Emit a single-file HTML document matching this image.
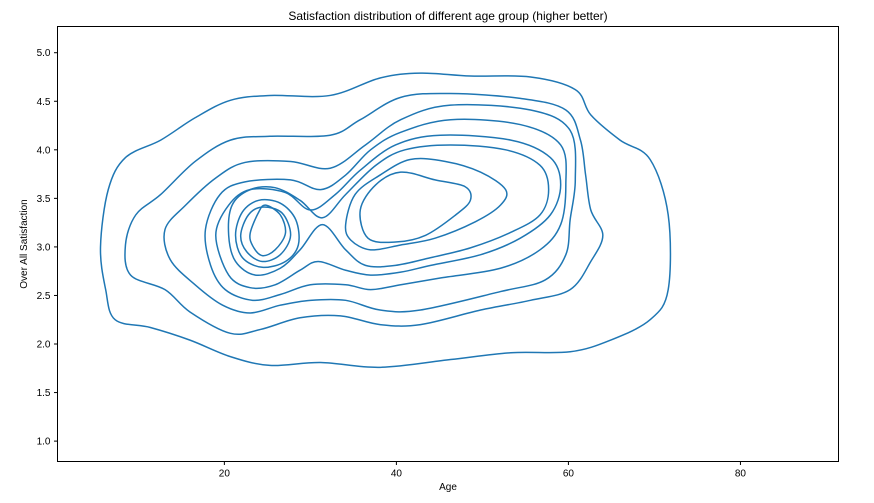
<!DOCTYPE html>
<html><head><meta charset="utf-8"><style>
body{margin:0;background:#fff;}
svg text{font-family:"Liberation Sans","DejaVu Sans",sans-serif;fill:#000;}
</style></head><body>
<svg id="chart" width="874" height="498" viewBox="0 0 874 498" xmlns="http://www.w3.org/2000/svg">
<rect width="874" height="498" fill="#fff"/>
<text x="448" y="20" font-size="12" text-anchor="middle">Satisfaction distribution of different age group (higher better)</text>
<g id="contours"></g>
<g id="axes"></g>
<text x="448" y="490" font-size="10" text-anchor="middle">Age</text>
<text transform="translate(27,244) rotate(-90)" font-size="10" text-anchor="middle">Over All Satisfaction</text>
</svg>
<script>
const xTicks=[20,40,60,80];
const yTicks=[1.0,1.5,2.0,2.5,3.0,3.5,4.0,4.5,5.0];
const L1=[[5.6,3.00],[6.5,3.59],[8.5,3.92],[12.6,4.10],[16.6,4.33],[20.7,4.51],[25.3,4.56],[32.3,4.56],[38.1,4.74],[42.8,4.79],[48.6,4.76],[55.6,4.75],[60.8,4.62],[62.6,4.36],[66.0,4.10],[69.5,3.90],[71.6,3.33],[71.6,2.56],[69.5,2.25],[64.9,2.04],[60.2,1.92],[53.3,1.91],[46.3,1.84],[38.1,1.76],[31.2,1.81],[25.3,1.78],[20.7,1.87],[16.0,2.04],[11.4,2.17],[7.3,2.25],[6.2,2.56]];
const L2=[[8.5,3.02],[9.7,3.33],[12.6,3.54],[16.6,3.88],[20.7,4.10],[25.3,4.14],[32.3,4.15],[35.8,4.31],[40.5,4.54],[46.3,4.58],[54.4,4.53],[59.7,4.41],[61.4,4.10],[62.0,3.74],[62.6,3.38],[64.0,3.12],[62.6,2.85],[60.2,2.56],[55.6,2.45],[49.8,2.35],[42.8,2.20],[38.1,2.20],[33.5,2.29],[28.8,2.27],[24.2,2.15],[20.7,2.11],[16.0,2.33],[13.1,2.56],[9.1,2.71]];
const L3=[[13.1,3.18],[15.5,3.43],[19.0,3.71],[22.4,3.87],[27.7,3.88],[32.3,3.81],[36.4,4.05],[40.5,4.31],[46.3,4.46],[55.6,4.41],[60.2,4.20],[60.8,3.69],[60.2,3.28],[59.7,2.92],[57.3,2.66],[52.1,2.54],[42.8,2.35],[38.1,2.35],[34.1,2.45],[30.0,2.45],[26.5,2.40],[23.0,2.32],[19.8,2.40],[16.6,2.61],[13.7,2.87]];
const L4=[[17.8,3.18],[19.5,3.54],[22.4,3.67],[27.7,3.69],[31.2,3.59],[34.1,3.74],[37.0,4.00],[40.5,4.18],[46.3,4.31],[54.4,4.26],[59.1,4.05],[59.7,3.64],[59.1,3.23],[56.7,2.97],[52.1,2.78],[45.1,2.68],[40.5,2.61],[37.0,2.56],[34.1,2.61],[30.0,2.61],[26.5,2.51],[23.3,2.45],[20.1,2.56],[18.4,2.81]];
const L5=[[19.0,3.12],[20.5,3.43],[23.0,3.59],[27.1,3.56],[30.0,3.38],[32.9,3.54],[35.8,3.79],[39.9,4.05],[45.1,4.15],[53.3,4.10],[57.9,3.92],[59.1,3.64],[57.9,3.33],[54.4,3.09],[49.8,2.92],[44.0,2.81],[40.5,2.74],[37.0,2.71],[34.1,2.76],[30.9,2.85],[28.8,2.76],[25.9,2.61],[23.0,2.58],[20.5,2.71]];
const L6=[[20.5,3.12],[20.9,3.43],[23.0,3.59],[25.9,3.61],[28.8,3.48],[31.4,3.30],[34.1,3.54],[37.6,3.84],[41.0,4.00],[46.3,4.05],[52.7,4.00],[56.7,3.84],[57.7,3.59],[56.7,3.33],[53.3,3.15],[48.6,2.99],[44.0,2.89],[39.9,2.81],[36.4,2.81],[34.1,2.97],[31.4,3.23],[28.8,2.97],[26.5,2.78],[23.6,2.71],[21.3,2.85]];
const L7a=[[21.3,3.12],[22.1,3.36],[24.0,3.48],[26.5,3.45],[28.3,3.28],[28.6,3.02],[27.1,2.85],[24.4,2.79],[22.1,2.89]];
const L7b=[[34.1,3.23],[35.2,3.54],[38.1,3.74],[41.6,3.90],[45.7,3.88],[49.8,3.77],[52.7,3.59],[52.1,3.43],[49.2,3.26],[44.5,3.09],[40.5,3.02],[37.0,2.97],[34.7,3.07]];
const L8a=[[21.9,3.12],[22.8,3.33],[24.4,3.41],[26.7,3.35],[27.7,3.12],[26.5,2.92],[24.4,2.85],[22.6,2.95]];
const L8b=[[35.8,3.38],[37.6,3.64],[40.5,3.77],[44.5,3.69],[48.0,3.62],[48.6,3.48],[46.9,3.33],[43.4,3.12],[39.9,3.05],[36.7,3.09]];
const L9a=[[23.0,3.14],[24.0,3.36],[24.8,3.43],[26.5,3.33],[27.1,3.14],[25.9,2.97],[24.4,2.91],[23.3,3.01]];
const contours=[L1,L2,L3,L4,L5,L6,L7a,L7b,L8a,L8b,L9a];

const X0=57.5,X1=838.5,Y0=26.5,Y1=461.5;
const xMin=0.6,xMax=91.4,yMin=0.79,yMax=5.27;
const sx=v=>X0+(v-xMin)/(xMax-xMin)*(X1-X0);
const sy=v=>Y1-(v-yMin)/(yMax-yMin)*(Y1-Y0);
const NS="http://www.w3.org/2000/svg";
function mk(t,a){const e=document.createElementNS(NS,t);for(const k in a)e.setAttribute(k,a[k]);return e;}
const cg=document.getElementById('contours');
contours.forEach((c,i)=>{
  const p=c.map(d=>[sx(d[0]),sy(d[1])]);const n=p.length;
  let d=`M${p[0][0]},${p[0][1]}`;
  for(let k=0;k<n;k++){const a=p[(k-1+n)%n],b=p[k],c2=p[(k+1)%n],e=p[(k+2)%n];
    d+=`C${b[0]+(c2[0]-a[0])/6},${b[1]+(c2[1]-a[1])/6} ${c2[0]-(e[0]-b[0])/6},${c2[1]-(e[1]-b[1])/6} ${c2[0]},${c2[1]}`;}
  const path=mk('path',{d:d+'Z',fill:'none',stroke:'#1f77b4','stroke-width':1.5});
  
  
  cg.appendChild(path);
});
const ag=document.getElementById('axes');
const frame=mk('rect',{x:X0,y:Y0,width:X1-X0,height:Y1-Y0,fill:'none',stroke:'#000','stroke-width':1});


ag.appendChild(frame);
xTicks.forEach(v=>{const x=sx(v);
  const l=mk('line',{x1:x,x2:x,y1:Y1,y2:Y1+3.5,stroke:'#000'});
  
  
  ag.appendChild(l);
  const t=mk('text',{x:x,y:Y1+15,'font-size':10,'text-anchor':'middle'});t.textContent=v;
  
  
  ag.appendChild(t);});
yTicks.forEach(v=>{const y=sy(v);
  const l=mk('line',{x1:X0-3.5,x2:X0,y1:y,y2:y,stroke:'#000'});
  
  
  ag.appendChild(l);
  const t=mk('text',{x:X0-7,y:y+3.5,'font-size':10,'text-anchor':'end'});t.textContent=v.toFixed(1);
  
  
  ag.appendChild(t);});
</script>
</body></html>
